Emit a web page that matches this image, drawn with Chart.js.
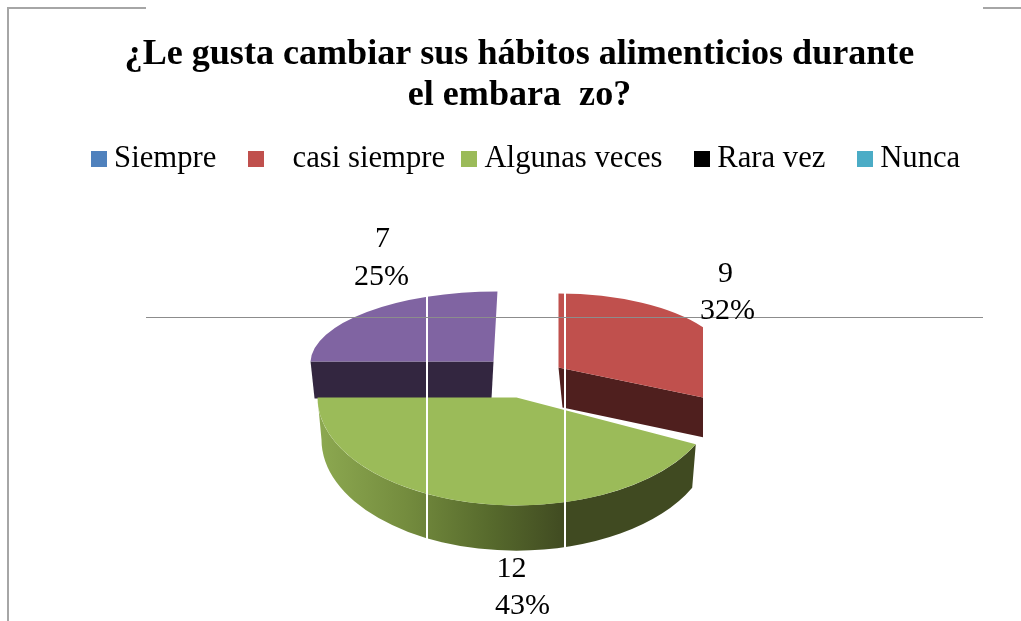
<!DOCTYPE html>
<html lang="es">
<head>
<meta charset="utf-8">
<title>Hábitos alimenticios</title>
<script src="https://cdn.jsdelivr.net/npm/chart.js@4/dist/chart.umd.min.js"></script>
<style>
  html, body { margin: 0; background: #fff; }
  canvas { display: block; }
</style>
</head>
<body>
<canvas id="grafica" width="1021" height="621"></canvas>
<script>
// Datos
const categorias = ['Siempre', 'casi siempre', 'Algunas veces', 'Rara vez', 'Nunca'];
const valores = [0, 9, 12, 7, 0];
const titulo = ['¿Le gusta cambiar sus hábitos alimenticios durante', 'el embara  zo?'];

const coloresSector = ['#4F81BD', '#C0504D', '#9BBB59', '#8064A2', '#4BACC6'];
const coloresLeyenda = ['#4F81BD', '#C0504D', '#9BBB59', '#000000', '#4BACC6'];
// Espacios que trae la leyenda original
const textoLeyenda = ['Siempre  ', '  \u2009casi siempre', 'Algunas veces  ', 'Rara vez  ', 'Nunca'];

const FUENTE = "'Liberation Serif', 'Times New Roman', serif";
const RADIO = 198;
const total = valores.reduce((suma, valor) => suma + valor, 0);

// Vista 3D de cada sector: desplazamiento, escala, sesgo, grosor y etiquetas (dx, dy por línea)
const vista3d = {
  1: { dx: 39, dy: -30, sx: 0.87, sy: 0.374, sesgo: 0, grosor: 40, pared: '#4F1F1E', limiteX: 703,
       lineas: [[206, -123], [208, -86]] },
  2: { dx: -3, dy: 0, sx: 1.005, sy: 0.545, sesgo: 0, grosor: 42, pared: null,
       lineas: [[-8, 172], [3, 209]] },
  3: { dx: -26, dy: -36, sx: 0.924, sy: 0.354, sesgo: -0.02, grosor: 37, pared: '#332640',
       lineas: [[-137, -158], [-138, -120]] }
};

function cuadroLeyenda(color) {
  const lienzo = document.createElement('canvas');
  lienzo.width = 16;
  lienzo.height = 16;
  const ctx2 = lienzo.getContext('2d');
  ctx2.fillStyle = color;
  ctx2.fillRect(0, 0, 16, 16);
  return lienzo;
}

function paredExterior(ctx, sector, vista) {
  const ax = sector.x + vista.dx;
  const ay = sector.y + vista.dy;
  const gradiente = ctx.createLinearGradient(320, 0, 566, 0);
  gradiente.addColorStop(0, '#8CA850');
  gradiente.addColorStop(0.35, '#748C3E');
  gradiente.addColorStop(0.7, '#56692C');
  gradiente.addColorStop(1, '#404A21');
  ctx.save();
  ctx.fillStyle = gradiente;
  ctx.beginPath();
  ctx.ellipse(ax, ay, RADIO * vista.sx, RADIO * vista.sy, 0, sector.startAngle, sector.endAngle);
  ctx.ellipse(ax, ay + vista.grosor, RADIO * vista.sx * 0.98, RADIO * vista.sy * 1.03, 0,
    sector.endAngle, sector.startAngle, true);
  ctx.closePath();
  ctx.fill();
  ctx.restore();
}

function paredCorte(ctx, sector, vista, angulo) {
  const ax = sector.x + vista.dx;
  const ay = sector.y + vista.dy;
  const px = ax + RADIO * (vista.sx * Math.cos(angulo) + vista.sesgo * Math.sin(angulo));
  const py = ay + RADIO * vista.sy * Math.sin(angulo);
  ctx.fillStyle = vista.pared;
  ctx.beginPath();
  ctx.moveTo(ax, ay);
  ctx.lineTo(px, py);
  ctx.lineTo(px + (angulo > 3 ? 4 : 0), py + vista.grosor);
  ctx.lineTo(ax + (angulo > 3 ? -2 : 4), ay + vista.grosor);
  ctx.closePath();
  ctx.fill();
}

function caraSuperior(ctx, sector, vista) {
  ctx.save();
  ctx.transform(vista.sx, 0, vista.sesgo, vista.sy, sector.x + vista.dx, sector.y + vista.dy);
  ctx.translate(-sector.x, -sector.y);
  sector.draw(ctx);
  ctx.restore();
}

const pastel3d = {
  id: 'pastel3d',
  // La leyenda original no está centrada con el título
  afterLayout(chart) {
    chart.legend.left += 10;
    chart.legend.right += 10;
  },
  // Sustituye el dibujo normal: cada sector se pinta aplastado con su pared
  beforeDatasetDraw(chart, args) {
    const ctx = chart.ctx;
    const sectores = args.meta.data;
    [3, 1, 2].forEach(indice => {
      const sector = sectores[indice];
      const vista = vista3d[indice];
      ctx.save();
      if (vista.limiteX) {
        ctx.beginPath();
        ctx.rect(0, 0, vista.limiteX, chart.height);
        ctx.clip();
      }
      if (vista.pared) {
        paredCorte(ctx, sector, vista, indice === 1 ? sector.endAngle : sector.startAngle);
      } else {
        paredExterior(ctx, sector, vista);
      }
      caraSuperior(ctx, sector, vista);
      ctx.restore();
    });
    return false;
  },
  afterDatasetsDraw(chart) {
    const ctx = chart.ctx;
    const sectores = chart.getDatasetMeta(0).data;
    ctx.save();
    // Líneas sueltas que trae la imagen original
    ctx.fillStyle = '#FFFFFF';
    ctx.fillRect(426, 280, 2, 270);
    ctx.fillRect(564, 280, 2, 270);
    ctx.fillStyle = '#8C8C8C';
    ctx.fillRect(146, 317, 837, 1);
    ctx.fillStyle = '#A6A6A6';
    ctx.fillRect(7, 7, 2, 614);
    ctx.fillRect(7, 7, 139, 2);
    ctx.fillRect(983, 7, 38, 2);
    // Etiquetas de valor y porcentaje
    ctx.fillStyle = '#000000';
    ctx.font = '30px ' + FUENTE;
    ctx.textAlign = 'center';
    ctx.textBaseline = 'middle';
    Object.keys(vista3d).forEach(clave => {
      const indice = Number(clave);
      const sector = sectores[indice];
      const textos = [String(valores[indice]), Math.round(valores[indice] / total * 100) + '%'];
      textos.forEach((texto, linea) => {
        const [dx, dy] = vista3d[indice].lineas[linea];
        ctx.fillText(texto, sector.x + dx, sector.y + dy);
      });
    });
    ctx.restore();
  }
};

new Chart(document.getElementById('grafica'), {
  type: 'pie',
  plugins: [pastel3d],
  data: {
    labels: categorias,
    datasets: [{
      data: valores,
      backgroundColor: coloresSector,
      borderWidth: 0,
      radius: RADIO
    }]
  },
  options: {
    responsive: false,
    animation: false,
    layout: { padding: { left: 18, right: 0, top: 0, bottom: 10 } },
    plugins: {
      tooltip: { enabled: false },
      title: {
        display: true,
        text: titulo,
        color: '#000000',
        font: { family: FUENTE, size: 36.1, weight: 'bold', lineHeight: 1.14 },
        padding: { top: 34, bottom: 3 }
      },
      legend: {
        display: true,
        position: 'top',
        labels: {
          color: '#000000',
          font: { family: FUENTE, size: 30.7 },
          padding: 24,
          usePointStyle: true,
          pointStyleWidth: 0.01,
          boxHeight: 16,
          generateLabels: () => categorias.map((nombre, indice) => ({
            text: textoLeyenda[indice],
            fillStyle: coloresLeyenda[indice],
            strokeStyle: coloresLeyenda[indice],
            lineWidth: 0,
            pointStyle: cuadroLeyenda(coloresLeyenda[indice]),
            hidden: false,
            index: indice
          }))
        }
      }
    }
  }
});
</script>
</body>
</html>
